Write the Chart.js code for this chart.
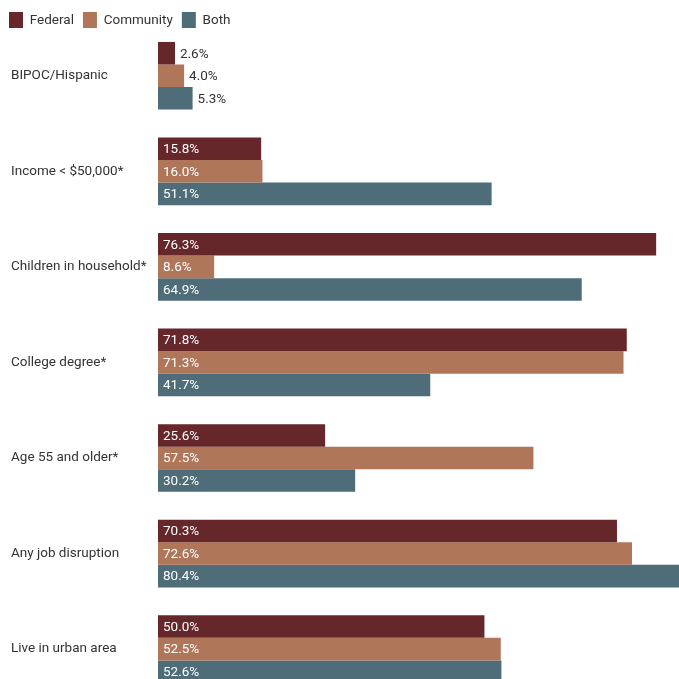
<!DOCTYPE html>
<html><head><meta charset="utf-8">
<script src="https://cdn.jsdelivr.net/npm/chart.js@4"></script>
<style>
html,body{margin:0;padding:0;background:#fff;overflow:hidden;}
#wrap{width:679px;height:679px;overflow:hidden;position:relative;}
#c{display:block;}
</style></head><body>
<div id="wrap"><canvas id="c" width="679" height="705" style="width:679px;height:705px"></canvas></div>
<script>
const categories = ['BIPOC/Hispanic','Income < $50,000*','Children in household*','College degree*','Age 55 and older*','Any job disruption','Live in urban area'];
const seriesNames = ['Federal','Community','Both'];
const federal = [2.6, 15.8, 76.3, 71.8, 25.6, 70.3, 50.0];
const community = [4.0, 16.0, 8.6, 71.3, 57.5, 72.6, 52.5];
const both = [5.3, 51.1, 64.9, 41.7, 30.2, 80.4, 52.6];
const colors = ['#66272b', '#b0765a', '#4e6d78'];

const FONT = 'Roboto, "Liberation Sans", sans-serif';
const FSIZE = 13.5;

const labelPlugin = {
  id: 'barLabels',
  afterDatasetsDraw(chart) {
    const ctx = chart.ctx;
    ctx.save();
    ctx.font = FSIZE + 'px ' + FONT;
    ctx.textBaseline = 'middle';
    ctx.textAlign = 'left';
    chart.data.datasets.forEach((ds, i) => {
      const meta = chart.getDatasetMeta(i);
      meta.data.forEach((bar, j) => {
        const v = ds.data[j];
        const txt = v.toFixed(1) + '%';
        const w = ctx.measureText(txt).width;
        const barW = bar.x - bar.base;
        if (w + 10 <= barW) {
          ctx.fillStyle = '#ffffff';
          ctx.fillText(txt, bar.base + 5, bar.y + 1);
        } else {
          ctx.fillStyle = '#333333';
          ctx.fillText(txt, bar.x + 5, bar.y + 1);
        }
      });
    });
    ctx.restore();
  }
};

const layoutPlugin = {
  id: 'layoutTweak',
  beforeLayout(chart) {
    const lg = chart.legend;
    if (lg && !lg.__patched) {
      const f = lg.fit;
      lg.fit = function () { f.call(this); this.height = 25; };
      lg.__patched = true;
    }
  },
  afterLayout(chart) {
    const y = chart.scales.y;
    y.left = 11;
  }
};

new Chart(document.getElementById('c'), {
  type: 'bar',
  data: {
    labels: categories,
    datasets: [
      { label: seriesNames[0], data: federal, backgroundColor: colors[0] },
      { label: seriesNames[1], data: community, backgroundColor: colors[1] },
      { label: seriesNames[2], data: both, backgroundColor: colors[2] }
    ]
  },
  options: {
    indexAxis: 'y',
    responsive: false,
    animation: false,
    devicePixelRatio: 1,
    layout: { padding: { top: 3, left: 0, right: 0, bottom: 0 } },
    datasets: { bar: { categoryPercentage: 0.708, barPercentage: 1.0, borderWidth: 0 } },
    scales: {
      x: { display: false, min: 0, max: 79.8 },
      y: {
        grid: { display: false },
        border: { display: false },
        ticks: { crossAlign: 'far', padding: 0, color: '#333333', font: { family: FONT, size: FSIZE } },
        afterFit(s) { s.width = 158; }
      }
    },
    plugins: {
      tooltip: { enabled: false },
      legend: {
        position: 'top',
        align: 'start',
        labels: {
          boxWidth: 14, boxHeight: 17, padding: 9,
          color: '#333333',
          font: { family: FONT, size: FSIZE }
        }
      }
    }
  },
  plugins: [labelPlugin, layoutPlugin]
});
</script>
</body></html>
